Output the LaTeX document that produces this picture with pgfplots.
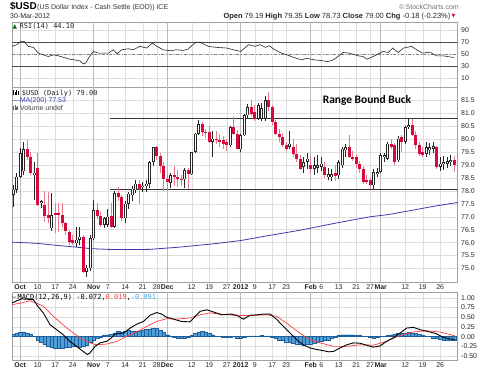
\documentclass[border=0pt]{standalone}
\usepackage{pgfplots}
\pgfplotsset{compat=1.18}
\usepackage{pgfplotstable}
\usepackage{fontspec}
\setmainfont{Liberation Sans}
\newfontfamily\monof{DejaVu Sans Mono}
\newfontfamily\dejavu{DejaVu Sans}
\newfontfamily\calib{Carlito}

\definecolor{candred}{RGB}{214,10,60}
\definecolor{wickred}{RGB}{236,120,140}
\definecolor{mablue}{RGB}{60,60,175}
\definecolor{histfill}{RGB}{80,160,215}
\definecolor{histdraw}{RGB}{30,95,155}
\definecolor{sigred}{RGB}{255,60,60}
\definecolor{gridc}{RGB}{222,222,222}
\definecolor{framec}{RGB}{160,160,160}
\definecolor{monthc}{RGB}{185,185,185}
\definecolor{lblue}{RGB}{70,170,230}

\pgfplotstableread{
x o h l c
-2 77.84 78.23 77.39 78.04
-1 78.04 78.70 77.90 78.55
0 78.55 79.64 78.50 79.45
1 78.75 79.90 78.60 79.60
4 78.62 79.13 77.65 78.70
6 77.55 77.65 77.35 77.60
9 76.56 77.91 76.43 77.07
16 75.98 76.60 75.85 76.11
17 76.11 76.60 75.90 76.23
19 74.88 75.14 74.69 75.04
20 75.01 76.30 74.90 76.17
21 76.17 77.65 76.10 77.26
24 76.68 77.00 76.55 76.94
25 76.68 77.30 76.60 77.00
27 76.62 78.00 76.55 77.91
30 76.94 77.60 76.75 77.50
31 77.50 77.95 77.30 77.89
32 77.83 78.20 77.60 78.08
33 78.02 78.40 77.90 78.28
35 78.15 78.35 77.95 78.20
36 78.20 78.40 77.96 78.28
37 78.28 79.15 78.10 79.11
38 79.11 79.69 78.95 79.69
43 78.30 78.70 78.10 78.60
47 78.45 78.90 78.10 78.79
49 78.64 79.50 78.60 79.50
50 79.50 80.25 79.45 80.21
51 80.21 80.72 80.15 80.57
55 79.89 80.30 79.30 80.02
60 79.76 80.50 79.70 80.47
63 79.60 80.20 79.50 80.14
64 80.14 80.95 80.10 80.92
65 80.92 81.35 80.80 81.24
68 80.79 81.40 80.75 81.30
69 80.79 81.40 80.70 81.20
70 80.79 81.65 80.70 81.50
77 79.69 80.30 79.60 79.82
81 78.92 79.30 78.70 79.11
82 79.11 79.45 78.85 79.24
84 78.86 79.30 78.60 78.98
85 78.90 79.40 78.70 78.98
86 78.92 79.30 78.75 79.05
88 78.54 78.90 78.40 78.64
89 78.54 78.85 78.40 78.64
91 78.60 79.20 78.45 79.11
92 78.98 79.70 78.90 79.63
93 79.56 79.80 79.30 79.69
101 78.21 78.85 78.06 78.73
102 78.66 78.90 78.55 78.73
103 78.73 79.45 78.70 79.37
104 79.31 79.45 79.10 79.37
105 79.24 79.90 79.20 79.82
108 79.18 80.10 79.10 80.02
110 79.89 80.50 79.80 80.47
111 80.47 80.78 80.40 80.53
116 79.44 79.90 79.30 79.69
117 79.56 79.85 79.40 79.69
118 79.63 79.90 79.45 79.72
120 78.92 79.30 78.75 79.05
121 79.02 79.35 78.80 79.11
122 79.05 79.30 78.90 79.15
123 79.11 79.40 78.95 79.19
}\upc

\pgfplotstableread{
x o h l c
2 79.60 79.97 79.20 79.30
3 79.30 79.50 78.60 78.68
5 78.87 79.45 77.40 77.46
7 77.46 78.00 76.80 77.01
8 77.05 77.97 76.75 76.95
10 77.14 77.52 76.36 77.07
11 77.14 77.52 76.43 77.05
12 77.07 77.52 76.60 76.75
13 76.75 76.80 76.30 76.43
14 76.43 76.50 75.90 76.04
15 76.11 76.30 75.90 75.98
18 76.23 76.30 74.82 74.88
22 77.26 77.52 76.90 77.01
23 77.01 77.20 76.60 76.68
26 77.01 77.52 76.55 76.62
28 77.91 78.16 77.60 77.78
29 77.78 77.85 76.85 76.94
34 78.28 78.40 77.50 78.08
39 79.69 79.75 79.20 79.35
40 79.35 79.45 78.70 78.95
41 78.95 79.10 78.00 78.45
42 78.45 78.60 78.00 78.36
44 78.60 78.95 78.20 78.52
45 78.52 78.80 78.15 78.47
46 78.47 78.60 78.20 78.43
48 78.79 78.90 78.08 78.64
52 80.57 80.65 80.10 80.27
53 80.27 80.40 80.05 80.25
54 80.27 80.50 79.85 79.89
56 80.02 80.30 79.80 79.95
57 79.97 80.20 79.70 79.89
58 79.95 80.10 79.60 79.82
59 79.89 80.00 79.55 79.76
61 80.47 80.90 80.15 80.21
62 80.21 80.35 79.60 79.63
66 81.24 81.50 80.90 80.98
67 81.04 81.30 80.70 80.79
71 81.50 81.80 81.10 81.24
72 81.24 81.30 80.55 80.66
73 80.66 80.75 80.15 80.21
74 80.21 80.40 79.90 80.08
75 80.08 80.25 79.70 79.76
76 79.76 79.90 79.55 79.63
78 79.69 80.00 79.30 79.44
79 79.44 79.80 79.10 79.24
80 79.24 79.40 78.80 78.86
83 79.00 79.30 78.70 78.86
87 78.92 79.10 78.50 78.60
90 78.67 79.00 78.40 78.57
94 79.69 80.15 79.25 79.31
95 79.31 79.55 79.15 79.24
96 79.31 79.40 78.90 79.05
97 79.05 79.15 78.70 78.86
98 78.86 78.95 78.25 78.34
99 78.41 78.60 78.25 78.34
100 78.41 78.50 78.08 78.21
106 79.82 80.00 79.60 79.69
107 79.76 79.85 79.00 79.11
109 80.08 80.15 79.50 79.89
112 80.53 80.78 80.10 80.14
113 80.14 80.30 79.60 79.76
114 79.76 79.90 79.35 79.44
115 79.50 79.70 79.30 79.37
119 79.69 79.75 78.85 78.92
124 79.19 79.35 78.73 79.00
}\dnc

\pgfplotstableread{
x h
-2 0.06
-1 0.08
0 0.11
1 0.12
2 0.10
3 0.06
4 0.00
5 -0.08
6 -0.14
7 -0.20
8 -0.25
9 -0.28
10 -0.30
11 -0.30
12 -0.29
13 -0.27
14 -0.26
15 -0.25
16 -0.25
17 -0.26
18 -0.25
19 -0.22
20 -0.15
21 -0.10
22 -0.05
23 -0.02
24 0.03
25 0.05
26 0.06
27 0.10
28 0.13
29 0.12
30 0.15
31 0.16
32 0.15
33 0.15
34 0.15
35 0.16
36 0.18
37 0.20
38 0.22
39 0.21
40 0.17
41 0.11
42 0.05
43 0.02
44 -0.02
45 -0.04
46 -0.05
47 -0.04
48 -0.02
49 0.03
50 0.08
51 0.11
52 0.13
53 0.12
54 0.09
55 0.05
56 0.02
57 0.01
58 -0.01
59 -0.02
60 -0.01
61 0.00
62 -0.03
63 -0.04
64 -0.02
65 0.01
66 0.02
67 0.02
68 0.02
69 0.03
70 0.02
71 0.02
72 -0.01
73 -0.05
74 -0.08
75 -0.10
76 -0.13
77 -0.15
78 -0.17
79 -0.18
80 -0.20
81 -0.21
82 -0.20
83 -0.18
84 -0.16
85 -0.14
86 -0.12
87 -0.10
88 -0.08
89 -0.05
90 -0.01
91 0.03
92 0.05
93 0.05
94 0.05
95 0.05
96 0.04
97 0.03
98 0.02
99 0.00
100 -0.02
101 -0.03
102 -0.02
103 0.00
104 0.01
105 0.03
106 0.05
107 0.07
108 0.08
109 0.09
110 0.10
111 0.11
112 0.10
113 0.08
114 0.06
115 0.04
116 0.02
117 0.00
118 -0.03
119 -0.05
120 -0.07
121 -0.08
122 -0.08
123 -0.09
124 -0.09
}\histo

\pgfplotsset{
  panel/.style={
    scale only axis, width=445.5bp,
    xmin=-2.343, xmax=124.94,
    axis line style={framec, line width=0.5bp},
    major tick length=0pt,
    xmajorgrids, ymajorgrids,
    major grid style={gridc, line width=0.4bp},
    tick label style={font=\fontsize{7}{8}\selectfont, inner sep=0pt, text=black!85},
    yticklabel pos=right,
    yticklabel style={anchor=west, xshift=3.5bp},
    xticklabel style={anchor=north, yshift=-2.2bp},
    xtick={5,10,15,25,30,35,39,49,54,59,67,72,76,86,91,96,100,110,115,120},
    xticklabels={10,17,24,7,14,21,28,12,19,27,9,17,23,6,13,21,27,12,19,26},
    extra x ticks={0,21,42,63,83,103},
    extra x tick labels={\textbf{Oct},\textbf{Nov},\textbf{Dec},\textbf{2012},\textbf{Feb},\textbf{Mar}},
    extra x tick style={major grid style={monthc, line width=0.5bp}},
    /pgf/number format/assume math mode=true,
  },
  candle/.style={draw=none, mark=none, forget plot,
    error bars/.cd, y dir=both, y explicit, error mark=none},
}

\begin{document}
\begin{tikzpicture}
\useasboundingbox (0bp,0bp) rectangle (489bp,371bp);

% ---------- header ----------
\node[anchor=base west, inner sep=0] at (10bp,361bp) {\fontsize{10}{12}\selectfont\bfseries \$USD};
\node[anchor=base west, inner sep=0, text=black!80] at (37bp,361bp) {\fontsize{7}{8}\selectfont (US Dollar Index - Cash Settle (EOD)) ICE};
\node[anchor=base west, inner sep=0, text=black!85] at (10bp,352.7bp) {\fontsize{7}{8}\selectfont 30-Mar-2012};
\node[anchor=base east, inner sep=0, text=black!55] at (459bp,361bp) {\fontsize{7}{8}\selectfont \copyright\,StockCharts.com};
\node[anchor=base east, inner sep=0, text=black!85] at (450.5bp,352.7bp) {\fontsize{7.5}{9}\selectfont \textbf{Open} 79.19 \textbf{High} 79.35 \textbf{Low} 78.73 \textbf{Close} 79.00 \textbf{Chg} -0.18 (-0.23\%)};
\node[anchor=base west, inner sep=0, text=candred] at (451.5bp,353.2bp) {\dejavu\fontsize{5}{6}\selectfont ▼};

% ---------- RSI panel ----------
\begin{axis}[panel, at={(12bp,284bp)}, anchor=south west, height=65bp,
  ymin=-5, ymax=103.3, ytick={10,30,50,70,90},
  xticklabels={}, extra x tick labels={}]
\addplot[black!70, line width=0.7bp, forget plot] coordinates {(-2.343,30) (124.94,30)};
\addplot[black!70, line width=0.7bp, forget plot] coordinates {(-2.343,70) (124.94,70)};
\addplot[gray, line width=0.5bp, dash dot, forget plot] coordinates {(-2.343,50) (124.94,50)};
\addplot[black!85, line width=0.6bp] coordinates {
(-2.4,62.7) (-1,65.5) (0.2,71) (1.1,71) (2.3,62.7) (3.8,61) (5.2,51.4) (6.6,48.6)
(8,45.8) (9.5,48.6) (10.9,46.9) (12.3,44.6) (14.2,41.3) (15.7,40.1) (17.1,38.4)
(18,33.4) (18.8,35.6) (19.8,45.8) (20.9,54.2) (22.3,51.4) (23.7,51.4) (25.2,51.4)
(26.6,57) (27.7,50.3) (29,57) (30.9,58.7) (32.3,57) (34.2,62.7) (36.1,59.9)
(37.8,68.3) (39,62.7) (40.9,57) (42.8,55.4) (44.7,57) (46.6,55.9) (48,58.2)
(49.3,65.5) (50.4,70) (51.8,68.3) (53.7,62.7) (56.1,61) (59,59.9) (60.9,57)
(63,54.2) (65.2,65.5) (67.1,62.7) (68.5,65.5) (70,61) (71.2,63.8) (72.4,58.2)
(74.2,52.5) (76.2,48.6) (78,44.6) (80.4,40.1) (81.8,42.9) (84.1,40.1) (86,39)
(87.9,37.3) (89.4,40.1) (90.8,45.8) (92.2,52.5) (94.1,51.4) (96.6,46.9) (98,45.8)
(99,41.3) (100.4,44.6) (101.8,48.6) (103.7,54.2) (105.2,52.5) (106.4,59.9)
(108,52.5) (109.5,59.9) (111.8,62.7) (113.3,57) (115,51.4) (117,53.1) (119,46.9)
(120.9,46.9) (123.3,44.6) (124,44.1)};
\end{axis}
\node[anchor=base west, inner sep=0, text=green!45!black] at (12.5bp,342bp) {\dejavu\fontsize{6}{7}\selectfont ▲};
\node[anchor=base west, inner sep=0, text=black!85] at (19.5bp,342bp) {\monof\fontsize{7}{8}\selectfont RSI(14) 44.10};

% ---------- price panel ----------
\begin{axis}[panel, at={(12bp,88.5bp)}, anchor=south west, height=195.5bp,
  ymin=74.46, ymax=82.01,
  ytick={75,75.5,76,76.5,77,77.5,78,78.5,79,79.5,80,80.5,81,81.5},
  yticklabel style={/pgf/number format/fixed, /pgf/number format/fixed zerofill, /pgf/number format/precision=1}]
\addplot[mablue, line width=0.8bp] coordinates {
(-2.34,76.02) (5,75.97) (10,75.90) (15,75.84) (20,75.77) (25,75.74) (30,75.73)
(37,75.74) (45,75.82) (55,75.95) (63,76.08) (70,76.25) (80,76.48) (90,76.75)
(100,77.0) (105,77.08) (110,77.2) (118,77.4) (124.94,77.55)};
\addplot[black!80, line width=0.8bp] coordinates {(25.6,80.78) (124.94,80.78)};
\addplot[black!80, line width=0.8bp] coordinates {(25.6,78.06) (124.94,78.06)};
\addplot[candle, error bar style={draw=wickred, line width=0.7bp}]
  table[x=x, y expr={(\thisrow{h}+\thisrow{l})/2}, y error expr={(\thisrow{h}-\thisrow{l})/2}] {\dnc};
\addplot[candle, error bar style={draw=candred, line width=2.6bp}]
  table[x=x, y expr={(\thisrow{o}+\thisrow{c})/2}, y error expr={max(abs(\thisrow{o}-\thisrow{c})/2,0.02)}] {\dnc};
\addplot[candle, error bar style={draw=black!85, line width=0.6bp}]
  table[x=x, y expr={(\thisrow{h}+\thisrow{l})/2}, y error expr={(\thisrow{h}-\thisrow{l})/2}] {\upc};
\addplot[candle, error bar style={draw=black!85, line width=2.6bp}]
  table[x=x, y expr={(\thisrow{o}+\thisrow{c})/2}, y error expr={max(abs(\thisrow{o}-\thisrow{c})/2,0.02)}] {\upc};
\addplot[candle, error bar style={draw=white, line width=1.4bp}]
  table[x=x, y expr={(\thisrow{o}+\thisrow{c})/2}, y error expr={max(abs(\thisrow{o}-\thisrow{c})/2-0.024,0)}] {\upc};
\end{axis}
\node[anchor=base west, inner sep=0] at (13.3bp,275.5bp) {\rule{0.9bp}{5bp}\hspace{0.5bp}\rule{0.9bp}{3.5bp}\hspace{0.5bp}\rule{0.9bp}{5.5bp}\hspace{0.5bp}\rule{0.9bp}{4bp}};
\node[anchor=base west, inner sep=0, text=black!85] at (21.7bp,275.5bp) {\monof\fontsize{7}{8}\selectfont \$USD (Daily) 79.00};
\node[anchor=base west, inner sep=0, text=mablue] at (12.7bp,268bp) {\fontsize{7}{8}\selectfont —MA(200) 77.53};
\node[anchor=base west, inner sep=0, text=black!60] at (13.3bp,260.5bp) {\rule{0.9bp}{4bp}\hspace{0.4bp}\rule{0.9bp}{5bp}\hspace{0.4bp}\rule{0.9bp}{3bp}\hspace{0.4bp}\rule{0.9bp}{4.5bp}};
\node[anchor=base west, inner sep=0, text=black!75] at (20bp,260.5bp) {\fontsize{7}{8}\selectfont Volume undef};
\node[anchor=base, inner sep=0] at (367bp,267.7bp) {\calib\fontsize{11.5}{13}\selectfont\bfseries Range Bound Buck};

% ---------- MACD panel ----------
\begin{axis}[panel, at={(12bp,11bp)}, anchor=south west, height=68bp,
  ymin=-0.60, ymax=1.147,
  ytick={-0.5,-0.25,0,0.25,0.5,0.75,1},
  yticklabel style={/pgf/number format/fixed, /pgf/number format/fixed zerofill, /pgf/number format/precision=2}]
\addplot[ybar, bar width=1, fill=histfill, draw=histdraw, line width=0.3bp] table[x=x, y=h] {\histo};
\addplot[sigred, line width=0.7bp] coordinates {
(-2.4,0.82) (0,0.86) (2.8,0.92) (4.7,0.86) (6.6,0.78) (9.5,0.52) (13.3,0.22)
(17.1,-0.03) (19.9,-0.16) (21.8,-0.21) (24.7,-0.19) (27.6,-0.12) (30.4,0.01)
(33.3,0.12) (36.1,0.26) (39,0.39) (41.8,0.46) (44.7,0.45) (48.5,0.48) (51.4,0.56)
(54.2,0.61) (57.1,0.58) (60.9,0.55) (65.7,0.54) (70.4,0.56) (73.3,0.52) (76.1,0.35)
(79.9,0.09) (82.8,-0.08) (85.7,-0.16) (89.5,-0.25) (93.3,-0.25) (97.1,-0.21)
(100.9,-0.22) (104.7,-0.12) (108.5,0.03) (112.3,0.12) (116.1,0.15) (119.9,0.12)
(124.2,0.02)};
\addplot[black, line width=0.9bp] coordinates {
(-2.4,0.86) (-1,0.92) (0.4,0.97) (3.8,0.95) (4.7,0.82) (6.6,0.61) (8.5,0.31)
(10.4,0.18) (12.3,0.05) (14.2,-0.12) (16.1,-0.25) (18,-0.38) (19.2,-0.46)
(19.9,-0.42) (21.4,-0.25) (22.8,-0.16) (24.7,-0.12) (26.1,-0.03) (27.1,0.07)
(29.5,0.09) (31.4,0.22) (33.3,0.32) (35.2,0.39) (37.1,0.55) (39,0.62) (40.4,0.58)
(41.8,0.50) (43.8,0.45) (46.1,0.39) (48.5,0.38) (50,0.52) (51.4,0.65) (53.3,0.69)
(55.7,0.62) (57.6,0.56) (60,0.58) (61.8,0.55) (63.8,0.45) (65.7,0.55) (67.6,0.56)
(69.5,0.58) (71.4,0.58) (73.3,0.44) (75.2,0.26) (77.1,0.09) (79,-0.08) (80.9,-0.21)
(82.8,-0.29) (84.7,-0.33) (86.6,-0.36) (88.1,-0.39) (89.5,-0.38) (91.4,-0.29)
(93.3,-0.21) (95.2,-0.16) (97.1,-0.17) (99,-0.22) (100.9,-0.27) (102.8,-0.24)
(104.7,-0.12) (106.6,-0.03) (108.5,0.09) (110.4,0.22) (112.3,0.24) (114.2,0.18)
(117.1,0.12) (119,0.07) (120.9,-0.02) (122.8,-0.06) (124.2,-0.07)};
\end{axis}
\node[anchor=base west, inner sep=0] at (12bp,71bp) {\monof\fontsize{7}{8}\selectfont —\,MACD(12,26,9) -0.072,\textcolor{sigred}{ 0.019},\textcolor{lblue}{ -0.091}};
\end{tikzpicture}
\end{document}
